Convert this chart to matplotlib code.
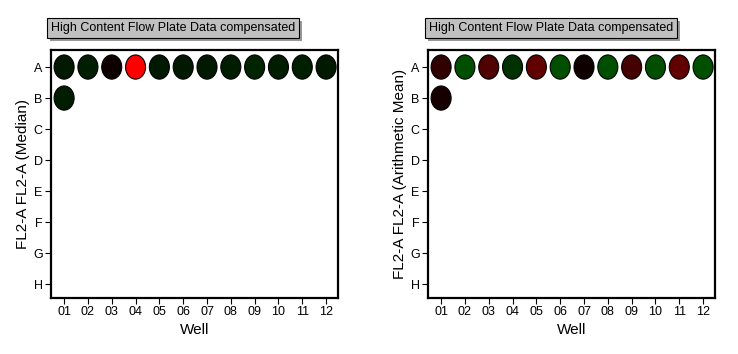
import numpy as np
import matplotlib
matplotlib.use("Agg")
import matplotlib.pyplot as plt
from matplotlib.patches import Ellipse
from matplotlib.colors import LinearSegmentedColormap
import matplotlib.patheffects as pe

plt.rcParams['font.family'] = ['Liberation Sans', 'DejaVu Sans']

rows = ['A', 'B', 'C', 'D', 'E', 'F', 'G', 'H']
cols = ['01', '02', '03', '04', '05', '06', '07', '08', '09', '10', '11', '12']
title = "High Content Flow Plate Data compensated"

# wells measured (row index, col index)
wells = [(0, c) for c in range(12)] + [(1, 0)]

# signed intensity: negative -> green, positive -> red
median_vals = [-0.10, -0.12, 0.06, 1.00, -0.10, -0.10, -0.10, -0.11,
               -0.14, -0.11, -0.12, -0.10, -0.11]
mean_vals = [0.19, -0.31, 0.31, -0.19, 0.38, -0.31, 0.06, -0.31,
             0.27, -0.31, 0.38, -0.31, 0.09]

cmap = LinearSegmentedColormap.from_list('rg', ['#00ff00', '#000000', '#ff0000'])

fig = plt.figure(figsize=(7.38, 3.54), dpi=100)
W, H = 738, 354


def draw_plate(left_px, title_x_px, values, ylabel):
    ax = fig.add_axes([left_px / W, 1 - 298 / H, 287 / W, 248 / H])
    for (r, c), v in zip(wells, values):
        ax.add_patch(Ellipse((c, r), 0.84, 0.78, facecolor=cmap((v + 1) / 2),
                             edgecolor='black', linewidth=0.8))
    ax.set_xlim(-0.55, 11.5)
    ax.set_ylim(7.45, -0.55)
    ax.set_xticks(range(12))
    ax.set_xticklabels(cols, fontsize=9)
    ax.set_yticks(range(8))
    ax.set_yticklabels(rows, fontsize=9)
    ax.tick_params(length=4, width=0.8, pad=2)
    for s in ax.spines.values():
        s.set_linewidth(1.6)
    ax.set_xlabel('Well', fontsize=11, labelpad=3)
    ax.set_ylabel(ylabel, fontsize=11, labelpad=2)
    t = fig.text(title_x_px / W, 1 - 28 / H, title, ha='center', va='center',
                 fontsize=9,
                 bbox=dict(boxstyle='square,pad=0.3', facecolor='#c0c0c0',
                           edgecolor='black', linewidth=0.8))
    t.get_bbox_patch().set_path_effects([
        pe.SimplePatchShadow(offset=(2, -2), shadow_rgbFace='#808080', alpha=0.8),
        pe.Normal()])
    return ax


draw_plate(51, 173, median_vals, 'FL2-A FL2-A (Median)')
draw_plate(428, 551, mean_vals, 'FL2-A FL2-A (Arithmetic Mean)')

fig.savefig('out.png', dpi=100)
